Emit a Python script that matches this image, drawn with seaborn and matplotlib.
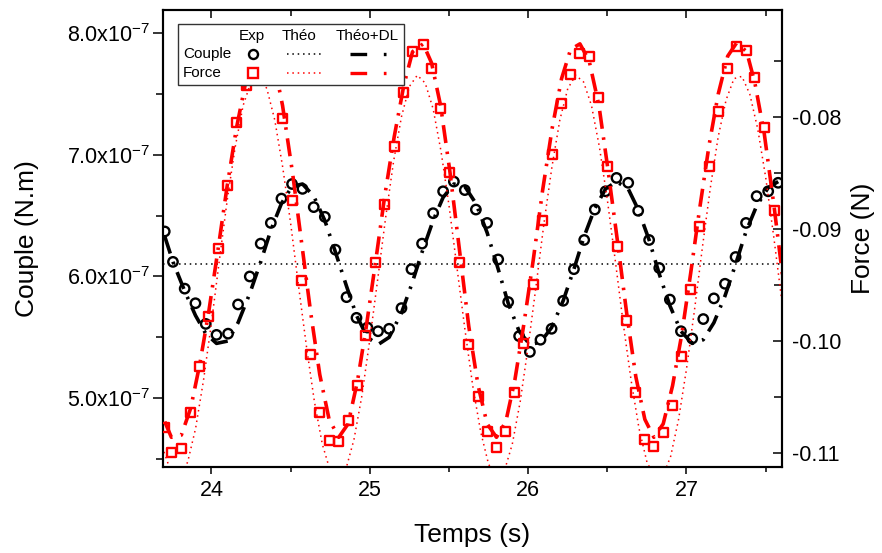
import numpy as np
import matplotlib
matplotlib.use('Agg')
import matplotlib.pyplot as plt
from matplotlib.ticker import MultipleLocator, FuncFormatter, FormatStrFormatter
from matplotlib.patches import Rectangle
import seaborn as sns

sns.set_style('ticks')
plt.rcParams['font.family'] = ['Liberation Sans', 'DejaVu Sans']
plt.rcParams['mathtext.default'] = 'regular'
plt.rcParams['axes.unicode_minus'] = False
for k in ('text.color', 'axes.labelcolor', 'xtick.color', 'ytick.color', 'axes.edgecolor'):
    plt.rcParams[k] = 'black'

# ---- Couple (x1e-7 N.m) ----
t_couple = [23.705, 23.757, 23.831, 23.899, 23.964, 24.032, 24.105, 24.168, 24.242, 24.311,
            24.375, 24.442, 24.509, 24.575, 24.646, 24.716, 24.783, 24.853, 24.916, 24.985,
            25.052, 25.122, 25.200, 25.263, 25.330, 25.400, 25.463, 25.531, 25.600, 25.670,
            25.741, 25.811, 25.874, 25.943, 26.011, 26.078, 26.148, 26.221, 26.289, 26.354,
            26.421, 26.489, 26.558, 26.632, 26.695, 26.764, 26.828, 26.895, 26.965, 27.036,
            27.106, 27.173, 27.243, 27.310, 27.376, 27.443, 27.516, 27.579]
couple_exp = [6.37, 6.12, 5.90, 5.78, 5.61, 5.52, 5.53, 5.77, 6.00, 6.27,
              6.44, 6.64, 6.76, 6.72, 6.57, 6.49, 6.22, 5.83, 5.66, 5.58,
              5.55, 5.57, 5.74, 6.06, 6.27, 6.52, 6.70, 6.78, 6.71, 6.55,
              6.44, 6.14, 5.79, 5.51, 5.38, 5.48, 5.57, 5.80, 6.06, 6.30,
              6.55, 6.70, 6.81, 6.77, 6.54, 6.30, 6.07, 5.81, 5.55, 5.49,
              5.65, 5.82, 5.94, 6.16, 6.44, 6.66, 6.70, 6.77]
couple_dl = [6.33, 6.12, 5.88, 5.68, 5.53, 5.45, 5.47, 5.62, 5.86, 6.12,
             6.38, 6.60, 6.74, 6.76, 6.66, 6.46, 6.20, 5.92, 5.68, 5.50,
             5.44, 5.50, 5.70, 5.93, 6.20, 6.46, 6.65, 6.76, 6.74, 6.60,
             6.36, 6.06, 5.78, 5.55, 5.44, 5.46, 5.58, 5.80, 6.06, 6.33,
             6.56, 6.72, 6.78, 6.72, 6.55, 6.30, 6.02, 5.76, 5.55, 5.45,
             5.48, 5.62, 5.84, 6.10, 6.37, 6.58, 6.73, 6.78]
couple_theo = 6.10

# ---- Force (N) ----
t_force = [23.705, 23.747, 23.810, 23.869, 23.926, 23.983, 24.042, 24.099, 24.158, 24.221,
           24.278, 24.335, 24.392, 24.449, 24.512, 24.569, 24.627, 24.684, 24.743, 24.804,
           24.863, 24.922, 24.975, 25.038, 25.095, 25.154, 25.215, 25.270, 25.337, 25.390,
           25.447, 25.505, 25.569, 25.625, 25.684, 25.741, 25.800, 25.859, 25.916, 25.973,
           26.032, 26.091, 26.152, 26.211, 26.268, 26.327, 26.385, 26.447, 26.502, 26.565,
           26.622, 26.680, 26.737, 26.794, 26.853, 26.912, 26.969, 27.026, 27.080, 27.143,
           27.200, 27.260, 27.317, 27.380, 27.432, 27.491, 27.553]
force_exp = [-0.1077, -0.1100, -0.1096, -0.1064, -0.1023, -0.0978, -0.0918, -0.0861, -0.0805, -0.0772,
             -0.0742, -0.0732, -0.0751, -0.0802, -0.0875, -0.0946, -0.1012, -0.1064, -0.1089, -0.1090,
             -0.1071, -0.1040, -0.0995, -0.0930, -0.0878, -0.0827, -0.0778, -0.0742, -0.0736, -0.0757,
             -0.0793, -0.0850, -0.0930, -0.1003, -0.1050, -0.1081, -0.1095, -0.1081, -0.1046, -0.1002,
             -0.0950, -0.0893, -0.0834, -0.0788, -0.0762, -0.0744, -0.0746, -0.0783, -0.0844, -0.0916,
             -0.0982, -0.1046, -0.1088, -0.1094, -0.1082, -0.1058, -0.1014, -0.0954, -0.0898, -0.0844,
             -0.0795, -0.0757, -0.0737, -0.0741, -0.0765, -0.0810, -0.0884]
t_force_dl = t_force + [27.612]
force_dl = [-0.1072, -0.1086, -0.1084, -0.1060, -0.1021, -0.0974, -0.0918, -0.0862, -0.0810, -0.0766,
            -0.0740, -0.0734, -0.0750, -0.0790, -0.0850, -0.0912, -0.0975, -0.1030, -0.1070, -0.1086,
            -0.1074, -0.1036, -0.0990, -0.0928, -0.0870, -0.0818, -0.0772, -0.0742, -0.0735, -0.0752,
            -0.0790, -0.0848, -0.0922, -0.0987, -0.1040, -0.1074, -0.1086, -0.1072, -0.1035, -0.0985,
            -0.0928, -0.0866, -0.0810, -0.0766, -0.0740, -0.0735, -0.0750, -0.0790, -0.0845, -0.0912,
            -0.0975, -0.1032, -0.1070, -0.1086, -0.1074, -0.1040, -0.0995, -0.0940, -0.0885, -0.0825,
            -0.0780, -0.0746, -0.0734, -0.0742, -0.0770, -0.0815, -0.0880, -0.0948]
t_theo = [23.70, 23.75, 23.80, 23.85, 23.90, 23.95, 24.00, 24.05, 24.10, 24.15,
          24.20, 24.25, 24.30, 24.35, 24.40, 24.45, 24.50, 24.55, 24.60, 24.65,
          24.70, 24.75, 24.80, 24.85, 24.90, 24.95, 25.00, 25.05, 25.10, 25.15,
          25.20, 25.25, 25.30, 25.35, 25.40, 25.45, 25.50, 25.55, 25.60, 25.65,
          25.70, 25.75, 25.80, 25.85, 25.90, 25.95, 26.00, 26.05, 26.10, 26.15,
          26.20, 26.25, 26.30, 26.35, 26.40, 26.45, 26.50, 26.55, 26.60, 26.65,
          26.70, 26.75, 26.80, 26.85, 26.90, 26.95, 27.00, 27.05, 27.10, 27.15,
          27.20, 27.25, 27.30, 27.35, 27.40, 27.45, 27.50, 27.55, 27.60]
force_theo = [-0.1099, -0.1119, -0.1122, -0.1108, -0.1078, -0.1035, -0.0984, -0.0928, -0.0874, -0.0827,
              -0.0790, -0.0769, -0.0763, -0.0775, -0.0803, -0.0845, -0.0895, -0.0951, -0.1005, -0.1054,
              -0.1092, -0.1116, -0.1123, -0.1114, -0.1088, -0.1049, -0.0999, -0.0945, -0.0890, -0.0840,
              -0.0800, -0.0773, -0.0763, -0.0770, -0.0793, -0.0831, -0.0879, -0.0934, -0.0989, -0.1040,
              -0.1081, -0.1110, -0.1122, -0.1116, -0.1092, -0.1054, -0.1005, -0.0951, -0.0895, -0.0845,
              -0.0803, -0.0775, -0.0763, -0.0769, -0.0790, -0.0827, -0.0874, -0.0928, -0.0984, -0.1035,
              -0.1078, -0.1108, -0.1122, -0.1121, -0.1103, -0.1070, -0.1025, -0.0973, -0.0917, -0.0864,
              -0.0818, -0.0785, -0.0766, -0.0764, -0.0780, -0.0811, -0.0854, -0.0906, -0.0962]

scale = 1e-7
couple_exp = np.array(couple_exp) * scale
couple_dl = np.array(couple_dl) * scale

red = '#ff0000'
dotted = (0, (1, 2.5))
dashdot = (0, (5.0, 2.4, 0.7, 2.4))

fig = plt.figure(figsize=(8.82, 5.53), dpi=100)
ax = fig.add_axes([0.1848, 0.1555, 0.7018, 0.8264])
ax2 = ax.twinx()

# couple (left axis)
ax.axhline(couple_theo * scale, color='black', lw=1.1, ls=dotted)
sns.lineplot(x=t_couple, y=couple_dl, ax=ax, color='black', lw=2.6, linestyle=dashdot,
             sort=False, estimator=None)
sns.scatterplot(x=t_couple, y=couple_exp, ax=ax, marker='o', s=46, facecolor='none',
                edgecolor='black', linewidth=1.7, zorder=3)

# force (right axis)
sns.lineplot(x=t_theo, y=force_theo, ax=ax2, color=red, lw=1.1, linestyle=dotted,
             sort=False, estimator=None)
sns.lineplot(x=t_force_dl, y=force_dl, ax=ax2, color=red, lw=2.6, linestyle=dashdot,
             sort=False, estimator=None)
sns.scatterplot(x=t_force, y=force_exp, ax=ax2, marker='s', s=42, facecolor='none',
                edgecolor=red, linewidth=1.7, zorder=3)

# axes limits and ticks
ax.set_xlim(23.694, 27.603)
ax.set_ylim(4.434e-7, 8.19e-7)
ax2.set_ylim(-0.11125, -0.07048)

ax.xaxis.set_major_locator(MultipleLocator(1))
ax.xaxis.set_minor_locator(MultipleLocator(0.5))
ax.yaxis.set_major_locator(MultipleLocator(1e-7))
ax.yaxis.set_minor_locator(MultipleLocator(0.5e-7))
ax.yaxis.set_major_formatter(FuncFormatter(lambda v, p: f'{v / scale:.1f}x10$^{{-7}}$'))
ax2.yaxis.set_major_locator(MultipleLocator(0.01))
ax2.yaxis.set_minor_locator(MultipleLocator(0.005))
ax2.yaxis.set_major_formatter(FormatStrFormatter('%.2f'))

ax.tick_params(axis='x', which='major', direction='out', length=5, width=1.1, labelsize=15.5, pad=4)
ax.tick_params(axis='x', which='minor', direction='out', length=3.5, width=1.1)
ax.tick_params(axis='y', which='major', direction='out', length=7, width=1.1, labelsize=15.5, pad=2.5)
ax.tick_params(axis='y', which='minor', direction='out', length=5, width=1.1)
ax2.tick_params(axis='y', which='major', direction='in', length=6.5, width=1.1, labelsize=15.5, pad=7.5)
ax2.tick_params(axis='y', which='minor', direction='in', length=6, width=1.1)

# mirrored ticks on top
ax2.xaxis.set_visible(True)
ax2.xaxis.tick_top()
ax2.tick_params(axis='x', which='major', direction='in', length=6, width=1.1, labeltop=False)
ax2.tick_params(axis='x', which='minor', direction='in', length=4, width=1.1, labeltop=False)

for a in (ax, ax2):
    for s in a.spines.values():
        s.set_linewidth(1.5)
        s.set_color('black')

ax.set_xlabel('Temps (s)', fontsize=19, labelpad=16)
ax.set_ylabel('Couple (N.m)', fontsize=19, labelpad=20)
ax2.set_ylabel('Force (N)', fontsize=19, labelpad=7)

# legend table
tr = ax2.transAxes
ax2.add_patch(Rectangle((0.024, 0.836), 0.366, 0.133, transform=tr, facecolor='white',
                        edgecolor='#333333', lw=1, zorder=10))
for x, lab in [(0.144, 'Exp'), (0.220, 'Théo'), (0.330, 'Théo+DL')]:
    ax2.text(x, 0.943, lab, transform=tr, ha='center', va='center', fontsize=11, zorder=11)
rows = [(0.904, 'Couple', 'black', 'o'), (0.862, 'Force', red, 's')]
for y, lab, col, mk in rows:
    ax2.text(0.032, y, lab, transform=tr, ha='left', va='center', fontsize=11, zorder=11)
    ax2.plot([0.146], [y], transform=tr, marker=mk, ms=6.5, mfc='none', mec=col, mew=1.7,
             ls='none', zorder=11, clip_on=False)
    ax2.plot([0.200, 0.257], [y, y], transform=tr, color=col, lw=1.1, ls=dotted, zorder=11)
    ax2.plot([0.302, 0.361], [y, y], transform=tr, color=col, lw=2.4,
             ls=(0, (5.0, 5.0, 0.9, 10)), zorder=11)

fig.savefig('out.png', dpi=100)
